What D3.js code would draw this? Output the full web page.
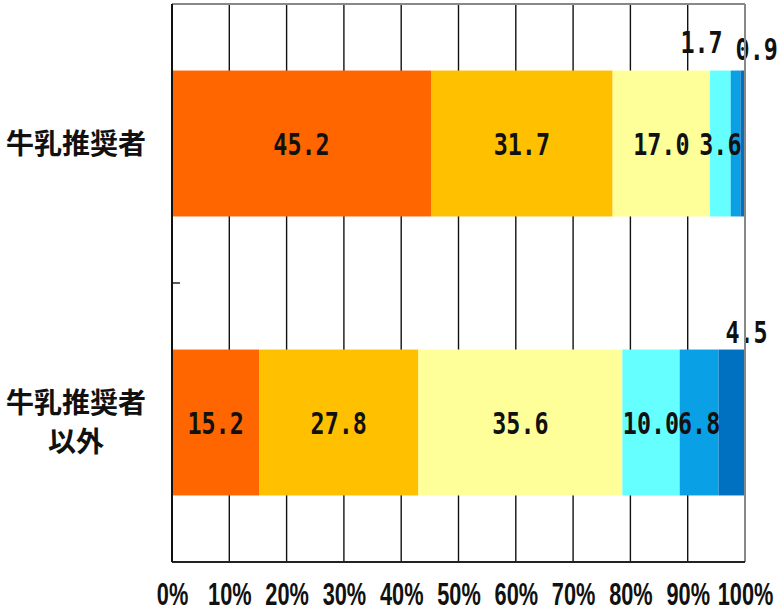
<!DOCTYPE html>
<html><head><meta charset="utf-8">
<script src="https://cdn.jsdelivr.net/npm/d3@7/dist/d3.min.js"></script>
<style>html,body{margin:0;padding:0;background:#fff;}svg{display:block;}</style>
</head><body>
<svg id="c" width="779" height="612"></svg>
<script>
// ---- data ----
const categories = [["牛乳推奨者"], ["牛乳推奨者", "以外"]];
const categoryKeys = ["牛乳推奨者", "牛乳推奨者以外"];
const seriesNames = ["s1", "s2", "s3", "s4", "s5", "s6"];
const values = [
  [45.2, 31.7, 17.0, 3.6, 1.7, 0.9],
  [15.2, 27.8, 35.6, 10.0, 6.8, 4.5]
];
const tickValues = [0, 10, 20, 30, 40, 50, 60, 70, 80, 90, 100];
const tickLabels = ["0%", "10%", "20%", "30%", "40%", "50%", "60%", "70%", "80%", "90%", "100%"];
const colors = ["#FF6600", "#FFC000", "#FFFF99", "#66FFFF", "#0AA0E6", "#0070C0"];
// labels drawn above the bar: [row, series, dx, dy from bar top]
const outsideLabels = [[0, 4, -34, -18], [0, 5, 14, -11], [1, 5, 15, -7]];

const svg = d3.select("#c");
const L = 172, R = 745, T = 4, B = 562;
const x = d3.scaleLinear().domain([0, 100]).range([L, R]);
const y = d3.scaleBand().domain(categoryKeys).range([T, B]).paddingInner(0.477).paddingOuter(0.2385);

// background gridlines
svg.append("g").selectAll("line").data(tickValues.slice(1, -1)).join("line")
  .attr("x1", d => x(d)).attr("x2", d => x(d)).attr("y1", T).attr("y2", B)
  .attr("stroke", "#111").attr("stroke-width", 1.4);

// stacked data
const rows = values.map((vals, i) => {
  let acc = 0;
  return vals.map((v, j) => { const s = acc; acc += v; return {row: i, ser: j, v, x0: s, x1: acc}; });
});

const g = svg.append("g");
rows.forEach((segs, i) => {
  g.selectAll(null).data(segs).join("rect")
    .attr("x", d => x(d.x0)).attr("width", d => Math.max(0, x(Math.min(100, d.x1)) - x(d.x0)))
    .attr("y", y(categoryKeys[i])).attr("height", y.bandwidth())
    .attr("fill", d => colors[d.ser]);
});

// plot frame
svg.append("line").attr("x1", L).attr("x2", R).attr("y1", T).attr("y2", T).attr("stroke", "#888").attr("stroke-width", 2);
svg.append("line").attr("x1", R).attr("x2", R).attr("y1", T).attr("y2", B).attr("stroke", "#888").attr("stroke-width", 2);
svg.append("line").attr("x1", L).attr("x2", R).attr("y1", B).attr("y2", B).attr("stroke", "#222").attr("stroke-width", 2);
svg.append("line").attr("x1", L).attr("x2", L).attr("y1", T).attr("y2", B).attr("stroke", "#111").attr("stroke-width", 2);
// category divider tick
const mid = (y(categoryKeys[0]) + y.bandwidth() + y(categoryKeys[1])) / 2;
svg.append("line").attr("x1", L).attr("x2", L + 8).attr("y1", mid).attr("y2", mid).attr("stroke", "#111").attr("stroke-width", 1.4);

// value labels
const fmt = d3.format(".1f");
const isOutside = (r, s) => outsideLabels.find(o => o[0] === r && o[1] === s);
rows.forEach((segs, i) => {
  segs.forEach(d => {
    const o = isOutside(i, d.ser);
    let cx = x((d.x0 + Math.min(100, d.x1)) / 2), cy;
    if (o) { cx += o[2]; cy = y(categoryKeys[i]) + o[3]; }
    else { cy = y(categoryKeys[i]) + y.bandwidth() / 2 + 11; }
    g.append("text")
      .attr("transform", `translate(${cx},${cy}) scale(0.78,1)`)
      .attr("text-anchor", "middle")
      .attr("font-family", "'DejaVu Sans Mono', 'Liberation Mono', monospace")
      .attr("font-weight", "bold").attr("font-size", 30).attr("fill", "#111")
      .text(fmt(d.v));
  });
});

// x axis labels
const xa = svg.append("g").attr("transform", `translate(0,${B})`)
  .call(d3.axisBottom(x).tickValues(tickValues).tickSize(0).tickPadding(0).tickFormat((d, i) => tickLabels[i]));
xa.select(".domain").remove();
xa.selectAll("text")
  .attr("y", 0).attr("dy", 0)
  .attr("font-family", "'Liberation Sans', Arial, sans-serif")
  .attr("font-weight", "bold").attr("font-size", 32).attr("fill", "#111")
  .attr("transform", "translate(0,43) scale(0.68,1)");

// category labels
const cg = svg.append("g");
categories.forEach((lines, i) => {
  const cy = y(categoryKeys[i]) + y.bandwidth() / 2;
  const lh = 39;
  const start = cy - (lines.length - 1) * lh / 2;
  lines.forEach((t, k) => {
    cg.append("text").attr("x", 76).attr("y", start + k * lh + 10)
      .attr("text-anchor", "middle")
      .attr("font-family", "'Noto Sans CJK JP', sans-serif")
      .attr("font-weight", "bold").attr("font-size", 28).attr("fill", "#111")
      .text(t);
  });
});
</script>
</body></html>
